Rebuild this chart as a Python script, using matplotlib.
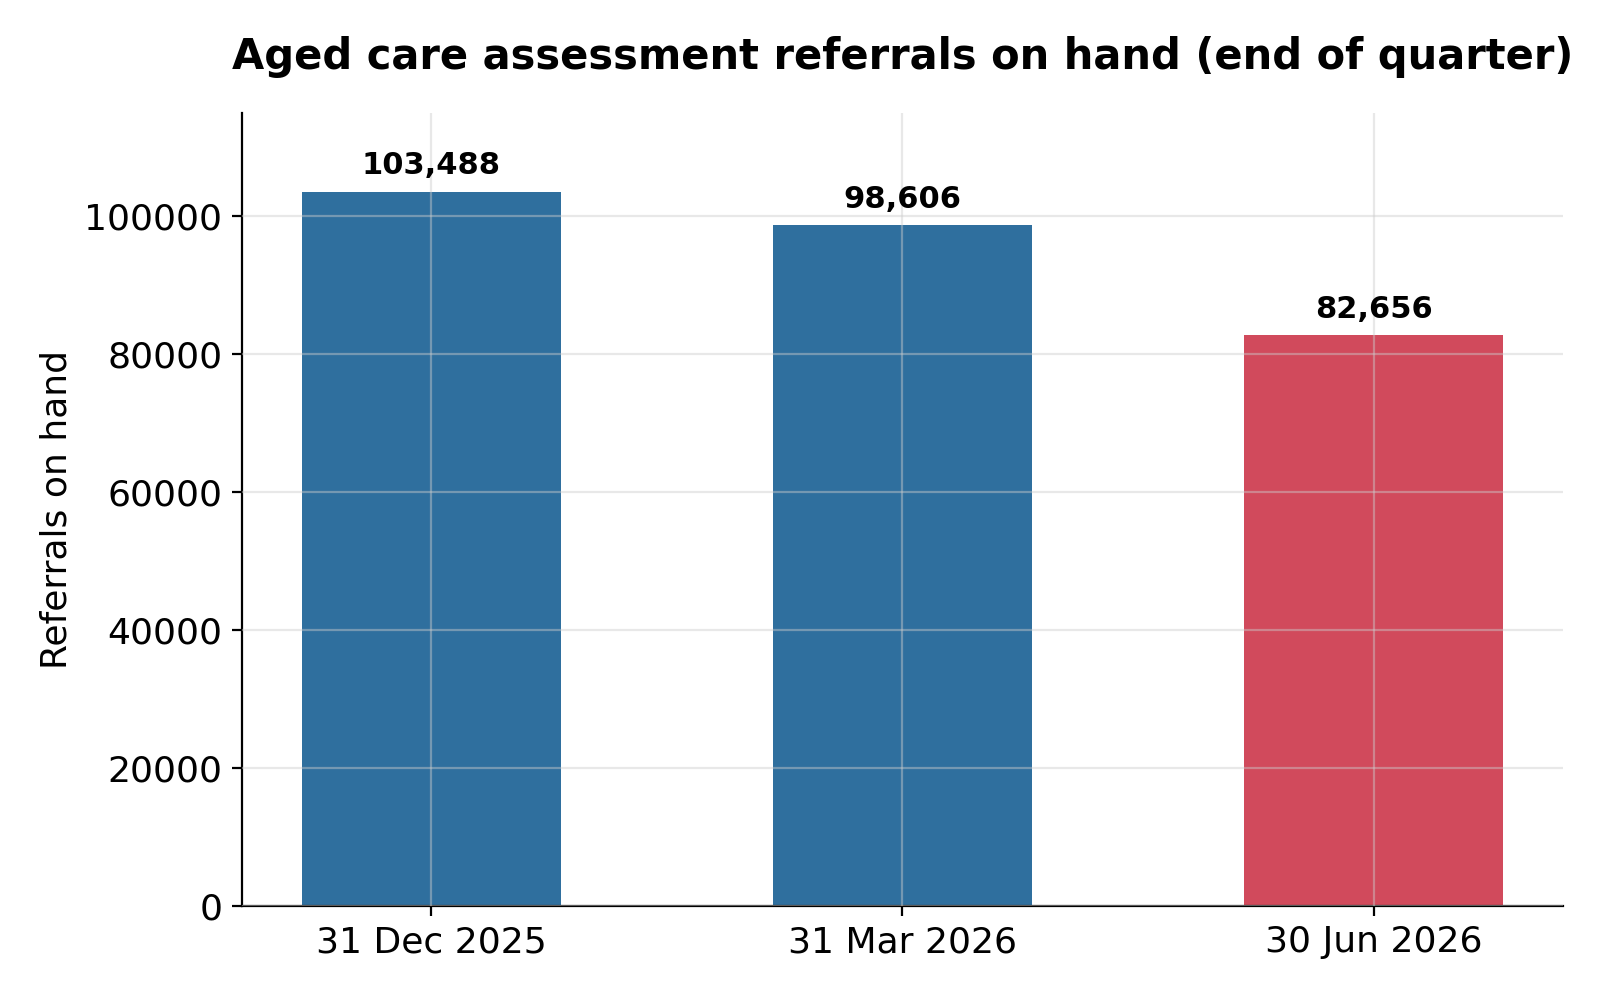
import matplotlib
matplotlib.use("Agg")
import matplotlib.pyplot as plt

quarters = ["31 Dec 2025", "31 Mar 2026", "30 Jun 2026"]
referrals = [103488, 98606, 82656]
bar_colors = ["#2f6f9e", "#2f6f9e", "#d14a5c"]

fig, ax = plt.subplots(figsize=(8, 5), dpi=200)
x = range(len(quarters))
bars = ax.bar(x, referrals, width=0.55, color=bar_colors)
for b, v in zip(bars, referrals):
    ax.annotate(f"{v:,}", xy=(b.get_x() + b.get_width() / 2, v), xytext=(0, 4),
                textcoords="offset points", ha="center", va="bottom",
                fontsize=11, fontweight="bold")

ax.set_xticks(list(x))
ax.set_xticklabels(quarters, fontsize=13)
ax.tick_params(axis="y", labelsize=13)
ax.set_ylabel("Referrals on hand", fontsize=13)
ax.set_ylim(0, max(referrals) * 1.11)
ax.set_title("Aged care assessment referrals on hand (end of quarter)",
             fontsize=15, fontweight="bold", pad=16)
ax.grid(True, color="#cccccc", alpha=0.45, linewidth=0.8)
ax.set_axisbelow(False)
ax.spines["top"].set_visible(False)
ax.spines["right"].set_visible(False)

fig.subplots_adjust(left=0.151, right=0.977, top=0.887, bottom=0.094)
fig.savefig("out.png", dpi=200)
